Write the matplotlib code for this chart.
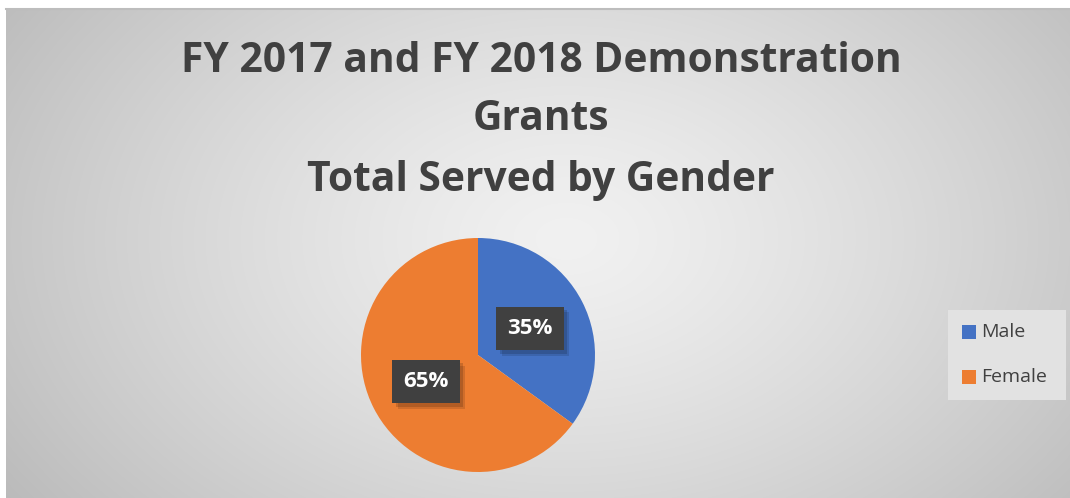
import numpy as np
import matplotlib
matplotlib.use("Agg")
import matplotlib.pyplot as plt
import matplotlib.patheffects as pe
from matplotlib.patches import Rectangle

categories = ["Male", "Female"]
values = [35, 65]
colors = ["#4472C4", "#ED7D31"]
title_lines = ["FY 2017 and FY 2018 Demonstration", "Grants", "Total Served by Gender"]

W, H = 1070, 498
fig = plt.figure(figsize=(W / 100, H / 100), dpi=100)
fig.patch.set_facecolor("white")

# background gradient panel
bg = fig.add_axes([6 / W, 0, (W - 6) / W, (H - 9) / H])
bg.set_axis_off()
yy, xx = np.mgrid[0:H - 9, 0:W - 6]
cx, cy = 560, 230
d = np.sqrt(((xx - cx) / 620.0) ** 2 + ((yy - cy) / 420.0) ** 2)
val = 0.945 - 0.19 * np.clip(d, 0, 1.2) ** 1.3
img = np.dstack([val, val, val])
bg.imshow(img, aspect="auto", extent=[0, 1, 0, 1], origin="upper")
bg.set_xlim(0, 1)
bg.set_ylim(0, 1)
bg.plot([0, 1], [1, 1], color="#bdbdbd", lw=1.5, transform=bg.transAxes, clip_on=False)

# title
for i, (line, ypix) in enumerate(zip(title_lines, [62, 120, 180])):
    fig.text(541 / W, 1 - ypix / H, line, ha="center", va="center",
             fontsize=29.3, fontweight="bold", color="#404040", family="Open Sans")

# pie
r = 117
pcx, pcy = 478, 355
ax = fig.add_axes([(pcx - r) / W, 1 - (pcy + r) / H, 2 * r / W, 2 * r / H])
ax.set_aspect("equal")
wedges, texts, autotexts = ax.pie(values, colors=colors, startangle=90, counterclock=False,
                                  autopct="%1.0f%%", pctdistance=0.5, radius=1.0,
                                  wedgeprops=dict(linewidth=0))
ax.set_xlim(-1, 1)
ax.set_ylim(-1, 1)
for t in autotexts:
    t.set_color("white")
    t.set_fontsize(16)
    t.set_fontweight("bold")
    t.set_family("Open Sans")
    t.set_bbox(dict(boxstyle="square,pad=0.5", facecolor="#404040", edgecolor="none"))
    t.get_bbox_patch().set_path_effects([
        pe.SimplePatchShadow(offset=(4, -4), shadow_rgbFace="black", alpha=0.12),
        pe.SimplePatchShadow(offset=(2.5, -2.5), shadow_rgbFace="black", alpha=0.15),
        pe.Normal()])

# legend
lx0, ly0, lx1, ly1 = 948, 310, 1066, 400
fig.patches.append(Rectangle((lx0 / W, 1 - ly1 / H), (lx1 - lx0) / W, (ly1 - ly0) / H,
                             transform=fig.transFigure, facecolor="#e2e2e2", edgecolor="none"))
for cat, col, ypix in zip(categories, colors, [332, 377]):
    fig.patches.append(Rectangle((962 / W, 1 - (ypix + 7) / H), 14 / W, 14 / H,
                                 transform=fig.transFigure, facecolor=col, edgecolor="none"))
    fig.text(981 / W, 1 - ypix / H, cat, ha="left", va="center", fontsize=14,
             color="#404040", family="Open Sans")

fig.savefig("out.png", dpi=100)
